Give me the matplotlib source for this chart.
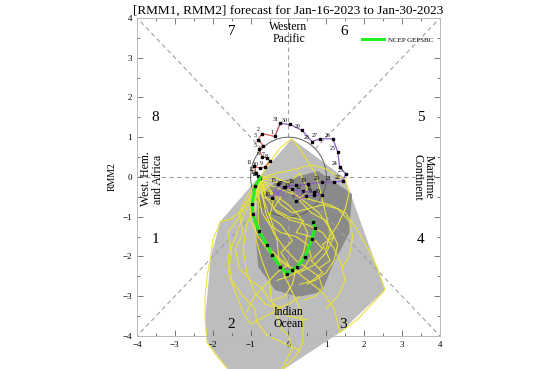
import matplotlib
matplotlib.use("Agg")
import matplotlib.pyplot as plt
import numpy as np

plt.rcParams['font.family'] = ['Liberation Serif', 'DejaVu Serif']

# observed RMM (December part, days 7..31)
dec_days = list(range(7, 32))
dec_x = [0.20, 0.46, 0.67, 0.88, 0.67, 0.38, 0.09, -0.12, -0.28, -0.44, -0.09, 0.20, 0.51,
         0.88, 1.19, 1.43, 1.51, 1.35, 1.30, 1.17, 0.83, 0.62, 0.36, 0.04, -0.22]
dec_y = [-0.61, -0.48, -0.46, -0.46, -0.38, -0.36, -0.30, -0.25, -0.18, -0.53, -0.25, -0.20, -0.18,
         -0.13, -0.13, -0.10, 0.08, 0.25, 0.63, 0.96, 0.96, 0.89, 1.17, 1.32, 1.35]

# observed RMM (January part, days 1..15)
jan_days = list(range(1, 16))
jan_x = [-0.36, -0.70, -0.80, -0.67, -0.78, -0.70, -0.57, -0.49, -0.62, -0.75, -0.90, -0.85, -0.80, -0.77, -0.75]
jan_y = [1.02, 1.09, 0.94, 0.79, 0.71, 0.51, 0.48, 0.41, 0.25, 0.22, 0.27, 0.10, 0.02, -0.02, -0.03]

# ensemble mean forecast Jan 16 - Jan 30
fc_x = [-0.88, -0.96, -0.94, -0.78, -0.57, -0.44, -0.22, -0.04, 0.09, 0.22, 0.44, 0.62, 0.70, 0.65]
fc_y = [-0.23, -0.69, -0.94, -1.37, -1.70, -1.95, -2.26, -2.44, -2.34, -2.26, -2.01, -1.57, -1.29, -1.12]

# ensemble members (start at last observation)
members = [
    [(-0.95, -0.4), (-1.2, -0.8), (-1.5, -1.05), (-1.8, -1.12), (-2.0, -1.6), (-2.05, -2.0), (-2.15, -2.5),
     (-2.2, -3.0), (-2.2, -3.6), (-2.15, -4.16), (-1.9, -4.5), (-1.54, -4.9)],
    [(-0.85, -0.5), (-0.9, -1.0), (-0.85, -1.6), (-0.7, -2.1), (-0.5, -2.6), (-0.45, -3.1), (-0.3, -3.5),
     (-0.2, -3.8), (0.0, -4.0), (0.1, -4.3), (-0.05, -4.6), (-0.22, -4.9)],
    [(-0.5, -0.2), (-0.1, -0.35), (0.3, -0.5), (0.7, -0.6), (1.1, -0.7), (1.5, -0.9), (1.8, -1.3),
     (2.1, -1.8), (2.35, -2.3), (2.55, -2.84), (2.2, -3.2), (1.8, -3.6), (1.36, -3.91)],
    [(-0.6, 0.2), (-0.4, 0.5), (-0.2, 0.75), (0.09, 0.96), (0.3, 0.7), (0.5, 0.4), (0.7, 0.1), (0.8, -0.2),
     (0.9, -0.6), (1.0, -1.0), (1.1, -1.4), (1.0, -1.8)],
    [(-0.7, -0.4), (-0.6, -0.9), (-0.4, -1.4), (-0.1, -1.8), (0.2, -2.1), (0.5, -2.3), (0.8, -2.5),
     (0.9, -2.8), (0.7, -3.0), (0.4, -3.1)],
    [(-0.4, -0.1), (0.0, -0.3), (0.4, -0.6), (0.8, -0.9), (1.1, -1.3), (1.3, -1.7), (1.2, -2.1),
     (1.0, -2.4), (0.7, -2.6), (0.3, -2.7)],
    [(-0.9, -0.6), (-1.1, -1.2), (-1.2, -1.8), (-1.1, -2.4), (-0.9, -2.9), (-0.6, -3.2), (-0.3, -3.3),
     (0.0, -3.2), (0.3, -3.0)],
    [(-0.6, -0.5), (-0.3, -0.9), (0.1, -1.1), (0.5, -1.2), (0.9, -1.4), (1.2, -1.8), (1.4, -2.2),
     (1.5, -2.6), (1.3, -3.0), (1.0, -3.3)],
    [(-0.8, -0.4), (-0.7, -0.9), (-0.5, -1.2), (-0.2, -1.4), (0.2, -1.5), (0.5, -1.7), (0.6, -2.0),
     (0.4, -2.3), (0.0, -2.5), (-0.3, -2.6)],
    [(-0.5, -0.3), (-0.2, -0.7), (0.1, -0.9), (0.5, -0.8), (0.9, -0.7), (1.3, -0.8), (1.6, -1.1),
     (1.7, -1.5), (1.6, -2.0), (1.4, -2.3)],
    [(-0.95, -0.5), (-1.2, -1.0), (-1.4, -1.5), (-1.6, -2.0), (-1.5, -2.6), (-1.2, -3.0), (-0.9, -3.3),
     (-0.83, -3.65), (-0.57, -3.98), (0.3, -4.37)],
    [(-0.65, -0.6), (-0.45, -1.1), (-0.3, -1.6), (-0.25, -2.1), (-0.1, -2.5), (0.1, -2.9), (0.3, -3.3),
     (0.38, -3.7), (0.38, -4.16), (0.22, -4.47), (-0.17, -4.87)],
    [(-0.3, 0.1), (0.2, 0.2), (0.6, 0.3), (1.0, 0.2), (1.3, 0.0), (1.49, -0.03), (1.6, -0.4), (1.5, -0.8),
     (1.3, -1.2), (1.1, -1.5)],
    [(-0.85, -0.3), (-1.0, -0.7), (-1.0, -1.1), (-0.8, -1.5), (-0.5, -1.9), (-0.1, -2.2), (0.3, -2.4),
     (0.7, -2.2), (1.0, -1.9), (1.2, -1.5)],
    [(-0.6, -0.3), (-0.3, -0.5), (0.0, -0.7), (0.3, -1.0), (0.5, -1.4), (0.4, -1.9), (0.2, -2.3),
     (0.1, -2.7), (-0.1, -3.0), (-0.4, -3.1)],
    [(-0.8, -0.6), (-0.8, -1.2), (-0.6, -1.7), (-0.3, -2.0), (0.1, -2.3), (0.5, -2.6), (0.9, -2.9),
     (1.2, -3.3), (1.36, -3.91)],
    [(-1.0, -0.5), (-1.3, -1.0), (-1.6, -1.4), (-1.5, -1.9), (-1.6, -2.4), (-1.4, -2.9), (-1.2, -3.4),
     (-1.0, -3.7), (-0.6, -3.5), (-0.2, -3.3)],
    [(-0.6, -0.4), (-0.2, -0.5), (-0.4, -0.8), (0.0, -1.0), (0.4, -1.1), (0.2, -1.4), (0.6, -1.5),
     (0.9, -1.8), (0.6, -2.1), (0.9, -2.4), (0.5, -2.7)],
    [(-0.7, -0.5), (-0.4, -0.6), (-0.5, -1.0), (-0.2, -1.2), (0.1, -1.6), (-0.2, -1.9), (0.0, -2.2),
     (-0.3, -2.4), (-0.6, -2.7), (-0.9, -3.0), (-1.1, -3.4)],
    [(-0.4, 0.0), (0.0, -0.15), (0.3, 0.1), (0.5, -0.3), (0.3, -0.6), (0.6, -0.9), (1.0, -1.1),
     (1.2, -1.5), (0.9, -1.7), (1.1, -2.1), (0.8, -2.3)],
    [(-0.9, -0.2), (-1.1, -0.5), (-1.3, -0.9), (-1.2, -1.4), (-1.4, -1.8), (-1.3, -2.3), (-1.0, -2.6),
     (-0.7, -2.8), (-0.5, -3.1), (0.0, -3.5), (0.5, -3.6)],
]

# spread envelopes
outer_x = [0.09, 1.49, 2.55, 1.36, -0.22, -1.54, -2.15, -2.20, -2.05, -1.80]
outer_y = [0.96, -0.03, -2.84, -3.91, -4.90, -4.90, -4.16, -3.58, -2.00, -1.12]
inner_x = [-0.80, -0.36, 0.78, 1.68, 1.60, 1.17, 0.88, 0.25, -0.36, -0.80, -0.88]
inner_y = [-0.48, -0.15, 0.15, -0.43, -1.42, -2.21, -2.89, -3.02, -2.84, -2.26, -1.37]

phase_nums = ['1', '2', '3', '4', '5', '6', '7', '8']
phase_x = [-3.52, -1.52, 1.44, 3.50, 3.50, 1.46, -1.49, -3.52]
phase_y = [-1.57, -3.70, -3.70, -1.57, 1.50, 3.65, 3.65, 1.50]

fig = plt.figure(figsize=(5.4, 3.69), dpi=100)
ax = fig.add_axes([0.2537, 0.0894, 0.5611, 0.862])
ax.set_xlim(-4, 4)
ax.set_ylim(-4, 4)

ax.fill(outer_x, outer_y, color='#bdbdbd', lw=0, clip_on=False, zorder=1)
ax.fill(inner_x, inner_y, color='#8a8a8a', lw=0, clip_on=False, zorder=1.1)

# phase boundaries and unit circle
dash = dict(color='#a0a0a0', lw=0.8, ls=(0, (4, 3)), zorder=1.5)
for a in np.arange(0, 360, 45):
    r = np.array([1, 4 * np.sqrt(2) if a % 90 else 4])
    ax.plot(r * np.cos(np.radians(a)), r * np.sin(np.radians(a)), **dash)
t = np.linspace(0, 2 * np.pi, 200)
ax.plot(np.cos(t), np.sin(t), color='#606060', lw=0.7, zorder=1.6)

x0, y0 = jan_x[-1], jan_y[-1]
for m in members:
    mx = [x0] + [p[0] for p in m]
    my = [y0] + [p[1] for p in m]
    ax.plot(mx, my, color='#e8e23a', lw=0.8, clip_on=False, zorder=2)

# observations
ax.plot(dec_x + [jan_x[0]], dec_y + [jan_y[0]], color='#8a5cc8', lw=0.9, zorder=3)
ax.plot([dec_x[-1]] + jan_x, [dec_y[-1]] + jan_y, color='#e06060', lw=0.9, zorder=3)
ax.plot(dec_x + jan_x, dec_y + jan_y, 's', color='black', ms=1.6, zorder=4)
for d, x, y in zip(dec_days + jan_days, dec_x + jan_x, dec_y + jan_y):
    ax.text(x - 0.05, y + 0.03, str(d), fontsize=4.2, ha='right', va='bottom', zorder=4)
ax.text(-0.22, -0.45, 'DEC', color='#8a5cc8', fontsize=6, ha='center', va='center', zorder=4)
ax.text(0.30, -0.45, 'JAN', color='#8a5cc8', fontsize=6, ha='center', va='center', zorder=4)

# forecast
ax.plot([x0] + fc_x, [y0] + fc_y, color='#22ee22', lw=2.2, zorder=5, label='NCEP GEFSBC')
ax.plot(fc_x, fc_y, 's', color='black', ms=1.6, zorder=6)

for n, x, y in zip(phase_nums, phase_x, phase_y):
    ax.text(x, y, n, fontsize=11, ha='center', va='center')
ax.text(0, 3.62, 'Western\nPacific', fontsize=8.5, ha='center', va='center', linespacing=0.95)
ax.text(0, -3.55, 'Indian\nOcean', fontsize=8.5, ha='center', va='center', linespacing=0.95)
ax.text(-3.6, -0.05, 'West. Hem.\nand Africa', fontsize=8.5, ha='center', va='center',
        rotation=90, linespacing=0.95)
ax.text(3.55, 0.0, 'Maritime\nContinent', fontsize=8.5, ha='center', va='center',
        rotation=-90, linespacing=0.95)

ax.legend(loc='upper right', bbox_to_anchor=(1.0, 0.96), frameon=False, fontsize=5,
          handlelength=3.2, handletextpad=0.6)

ax.set_xticks(np.arange(-4, 5, 1))
ax.set_yticks(np.arange(-4, 5, 1))
ax.set_xticks(np.arange(-4, 4.1, 0.5), minor=True)
ax.set_yticks(np.arange(-4, 4.1, 0.5), minor=True)
ax.tick_params(which='both', direction='in', top=True, right=True, labelsize=6.5, colors='#444444',
               labelcolor='black')
ax.tick_params(which='major', length=4, width=0.5)
ax.tick_params(which='minor', length=2, width=0.5)
for s in ax.spines.values():
    s.set_color('#bbbbbb')
    s.set_linewidth(0.7)
ax.set_ylabel('RMM2', fontsize=7, labelpad=4)
ax.set_title('[RMM1, RMM2] forecast for Jan-16-2023 to Jan-30-2023', fontsize=9.5, pad=3)

plt.savefig('out.png', dpi=100)
